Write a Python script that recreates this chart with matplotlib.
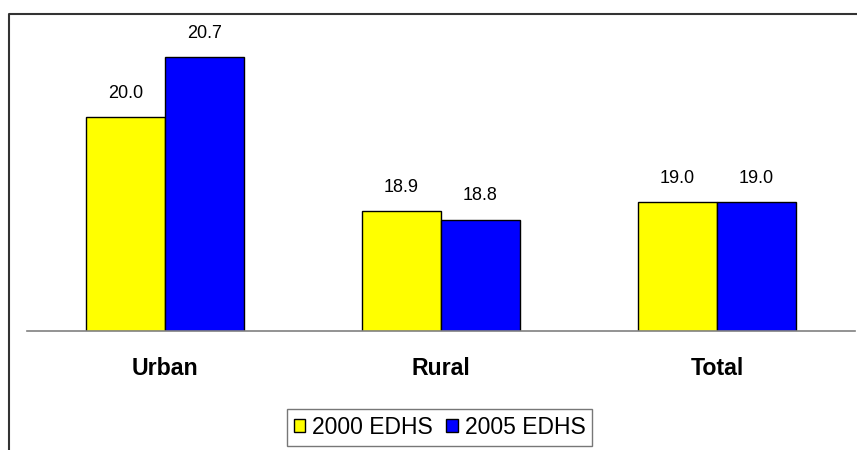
import matplotlib
matplotlib.use("Agg")
import matplotlib.pyplot as plt
from matplotlib.lines import Line2D
import numpy as np

plt.rcParams['font.family'] = ['Liberation Sans', 'DejaVu Sans']

categories = ['Urban', 'Rural', 'Total']
edhs_2000 = [20.0, 18.9, 19.0]
edhs_2005 = [20.7, 18.8, 19.0]
series_names = ['2000 EDHS', '2005 EDHS']
colors = ['#FFFF00', '#0000FF']

fig = plt.figure(figsize=(8.57, 4.5), dpi=100)
W, H = 857, 450

# chart area frame: only the left and top edges fall inside the canvas
fig.add_artist(Line2D([8.5 / W, 8.5 / W, 1.0], [0.0, 1 - 14 / H, 1 - 14 / H],
                      transform=fig.transFigure, color='#333333', lw=1.5))

ax = fig.add_axes([27 / W, 1 - 331 / H, 828 / W, 300 / H])
x = np.arange(len(categories))
width = 0.286

b1 = ax.bar(x - width / 2, edhs_2000, width, color=colors[0], edgecolor='black',
            linewidth=1.0, label=series_names[0])
b2 = ax.bar(x + width / 2, edhs_2005, width, color=colors[1], edgecolor='black',
            linewidth=1.0, label=series_names[1])

for bars, vals in ((b1, edhs_2000), (b2, edhs_2005)):
    for rect, v in zip(bars, vals):
        ax.annotate(f'{v:.1f}', (rect.get_x() + rect.get_width() / 2, v),
                    xytext=(0, 17), textcoords='offset points',
                    ha='center', va='center', fontsize=13)

ax.set_xlim(-0.5, 2.5)
ax.set_ylim(17.5, 21.0)
ax.set_yticks([])
ax.set_xticks(x)
ax.set_xticklabels(categories, fontsize=16.7, fontweight='bold')
ax.tick_params(axis='x', length=0, pad=19)
for s in ('top', 'right', 'left'):
    ax.spines[s].set_visible(False)
ax.spines['bottom'].set_color('#808080')
ax.spines['bottom'].set_linewidth(1.2)
ax.patch.set_alpha(0)

leg = fig.legend(loc='center', bbox_to_anchor=(439.5 / W, 1 - 427.5 / H), ncol=2,
                 fontsize=16.5, frameon=True, fancybox=False, handlelength=0.5,
                 handleheight=0.5, handletextpad=0.3, columnspacing=0.6,
                 borderpad=0.3, borderaxespad=0)
leg.get_frame().set_edgecolor('#555555')
leg.get_frame().set_linewidth(1.0)

fig.savefig('out.png', dpi=100)
